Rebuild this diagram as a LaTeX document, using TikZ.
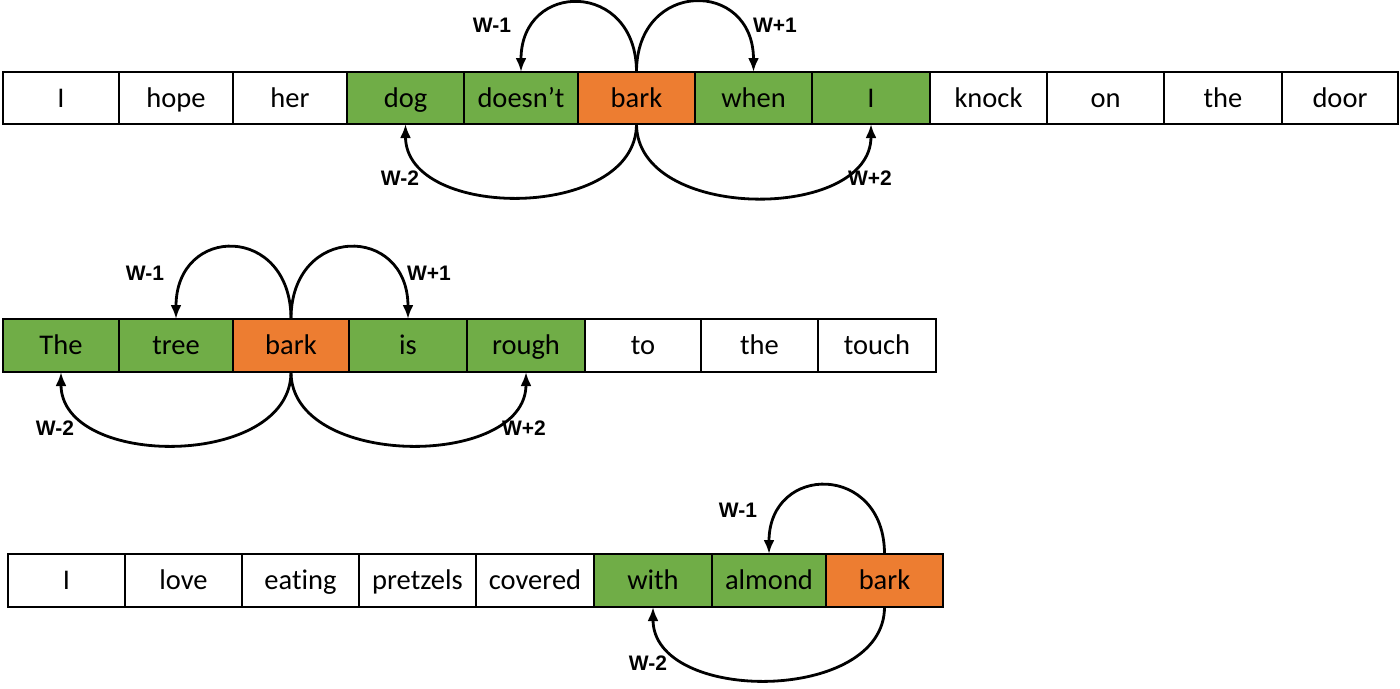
\documentclass[tikz,border=0pt]{standalone}
\usepackage{fontspec}
\setmainfont[Ligatures={NoCommon,NoRequired,NoContextual}]{Carlito}
\newfontfamily\lblfont{Liberation Sans}
\usetikzlibrary{arrows.meta}
\definecolor{wgreen}{HTML}{70AD47}
\definecolor{worange}{HTML}{ED7D31}
\begin{document}
\begin{tikzpicture}[x=1pt,y=-1pt,
  wbox/.style={draw=black,line width=2.8pt,inner sep=0pt,outer sep=0pt,font=\fontsize{28.5}{30}\selectfont,text=black,anchor=center,text height=22pt,text depth=4pt},
  ctx/.style={wbox,fill=wgreen},
  tgt/.style={wbox,fill=worange},
  arc/.style={line width=2.8pt,-{Latex[length=14pt,width=11pt]}},
  lbl/.style={font=\lblfont\bfseries\fontsize{21}{23}\selectfont,inner sep=0pt}
]
\useasboundingbox (0,0) rectangle (1400,688);
% Row 1
\begin{scope}[every node/.append style={minimum height=52pt}]
\node[wbox,minimum width=116pt] (a1) at (61,98) {I};
\node[wbox,minimum width=114pt] (a2) at (176,98) {hope};
\node[wbox,minimum width=114pt] (a3) at (290,98) {her};
\node[ctx,minimum width=117pt] (a4) at (405.5,98) {dog};
\node[ctx,minimum width=114pt] (a5) at (521,98) {doesn’t};
\node[tgt,minimum width=117pt] (a6) at (636.5,98) {bark};
\node[ctx,minimum width=117pt] (a7) at (753.5,98) {when};
\node[ctx,minimum width=118pt] (a8) at (871,98) {I};
\node[wbox,minimum width=117pt] (a9) at (988.5,98) {knock};
\node[wbox,minimum width=117pt] (a10) at (1105.5,98) {on};
\node[wbox,minimum width=118pt] (a11) at (1223,98) {the};
\node[wbox,minimum width=116pt] (a12) at (1340,98) {door};
\end{scope}
\draw[arc] (a6.north) .. controls +(0,-92) and +(0,-92) .. (a5.north);
\draw[arc] (a6.north) .. controls +(0,-93) and +(0,-93) .. (a7.north);
\draw[arc] (a6.south) .. controls +(0,97) and +(0,97) .. (a4.south);
\draw[arc] (a6.south) .. controls +(0,98) and +(0,98) .. (a8.south);
\node[lbl] (l1) at (492,25) {W-1};
\node[lbl] (l2) at (775,25) {W+1};
\node[lbl] (l3) at (400,178) {W-2};
\node[lbl] (l4) at (870,178) {W+2};
% Row 2
\begin{scope}[every node/.append style={minimum height=53pt}]
\node[ctx,minimum width=116pt] (b1) at (61,345.5) {The};
\node[ctx,minimum width=114pt] (b2) at (176,345.5) {tree};
\node[tgt,minimum width=116pt] (b3) at (291,345.5) {bark};
\node[ctx,minimum width=118pt] (b4) at (408,345.5) {is};
\node[ctx,minimum width=118pt] (b5) at (526,345.5) {rough};
\node[wbox,minimum width=116pt] (b6) at (643,345.5) {to};
\node[wbox,minimum width=117pt] (b7) at (759.5,345.5) {the};
\node[wbox,minimum width=118pt] (b8) at (877,345.5) {touch};
\end{scope}
\draw[arc] (b3.north) .. controls +(0,-95) and +(0,-95) .. (b2.north);
\draw[arc] (b3.north) .. controls +(0,-95) and +(0,-95) .. (b4.north);
\draw[arc] (b3.south) .. controls +(0,97) and +(0,97) .. (b1.south);
\draw[arc] (b3.south) .. controls +(0,97) and +(0,97) .. (b5.south);
\node[lbl] (m1) at (145,273) {W-1};
\node[lbl] (m2) at (429,273) {W+1};
\node[lbl] (m3) at (55,428) {W-2};
\node[lbl] (m4) at (524,428) {W+2};
% Row 3
\begin{scope}[every node/.append style={minimum height=53pt}]
\node[wbox,minimum width=117pt] (c1) at (66.5,580.5) {I};
\node[wbox,minimum width=117pt] (c2) at (183.5,580.5) {love};
\node[wbox,minimum width=117pt] (c3) at (300.5,580.5) {eating};
\node[wbox,minimum width=117pt] (c4) at (417.5,580.5) {pretzels};
\node[wbox,minimum width=118pt] (c5) at (535,580.5) {covered};
\node[ctx,minimum width=118pt] (c6) at (653,580.5) {with};
\node[ctx,minimum width=114pt] (c7) at (769,580.5) {almond};
\node[tgt,minimum width=117pt] (c8) at (884.5,580.5) {bark};
\end{scope}
\draw[arc] (c8.north) .. controls +(0,-91) and +(0,-91) .. (c7.north);
\draw[arc] (c8.south) .. controls +(0,97) and +(0,97) .. (c6.south);
\node[lbl] (n1) at (738,510) {W-1};
\node[lbl] (n2) at (648,663) {W-2};
\end{tikzpicture}
\end{document}
